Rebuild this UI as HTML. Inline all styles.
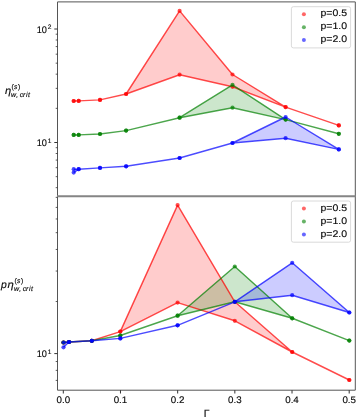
<!DOCTYPE html>
<html><head><meta charset="utf-8"><style>
html,body{margin:0;padding:0;background:#fff;}
body{width:357px;height:419px;overflow:hidden;}
svg{display:block;will-change:transform;text-rendering:geometricPrecision;font-family:"Liberation Sans",sans-serif;}
text{fill:#0a0a0a;stroke:#0a0a0a;stroke-width:0.15px;}
</style></head><body>
<svg width="357" height="419" viewBox="0 0 357 419">
<defs><clipPath id="ct"><rect x="57.5" y="1.9" width="297.8" height="193.7"/></clipPath>
<clipPath id="cb"><rect x="57.5" y="195.6" width="297.8" height="194.6"/></clipPath></defs>
<g clip-path="url(#ct)">
<polygon points="73.7,101.0 78.7,100.9 100.0,99.9 126.1,94.0 179.6,10.9 232.5,74.5 285.6,107.1 338.8,125.4 338.8,125.4 285.6,107.1 232.5,86.8 179.6,74.7 126.1,94.0 100.0,99.9 78.7,100.9 73.7,101.0" fill="rgb(255,0,0)" fill-opacity="0.2"/>
<polygon points="73.7,134.9 78.7,134.9 100.0,134.0 126.1,130.6 179.6,117.7 232.5,84.8 285.6,119.6 338.8,133.8 338.8,133.8 285.6,119.6 232.5,107.7 179.6,117.7 126.1,130.6 100.0,134.0 78.7,134.9 73.7,134.9" fill="rgb(0,128,0)" fill-opacity="0.2"/>
<polygon points="73.7,169.2 78.7,169.2 100.0,167.9 126.1,166.3 179.6,158.0 232.5,143.0 285.6,117.0 338.8,149.4 338.8,149.4 285.6,138.2 232.5,143.0 179.6,158.0 126.1,166.3 100.0,167.9 78.7,169.2 73.7,172.6" fill="rgb(0,0,255)" fill-opacity="0.2"/>
<path d="M73.7,101.0 L78.7,100.9 L100.0,99.9 L126.1,94.0 L179.6,74.7 L232.5,86.8 L285.6,107.1 L338.8,125.4 M126.1,94.0 L179.6,10.9 M179.6,10.9 L232.5,74.5 M232.5,74.5 L285.6,107.1" fill="none" stroke="rgb(255,0,0)" stroke-opacity="0.70" stroke-width="1.45" stroke-linejoin="round" stroke-linecap="butt"/>
<circle cx="73.7" cy="101.0" r="2.10" fill="rgb(255,0,0)" fill-opacity="0.70"/>
<circle cx="78.7" cy="100.9" r="2.10" fill="rgb(255,0,0)" fill-opacity="0.70"/>
<circle cx="100.0" cy="99.9" r="2.10" fill="rgb(255,0,0)" fill-opacity="0.70"/>
<circle cx="126.1" cy="94.0" r="2.10" fill="rgb(255,0,0)" fill-opacity="0.70"/>
<circle cx="179.6" cy="74.7" r="2.10" fill="rgb(255,0,0)" fill-opacity="0.70"/>
<circle cx="232.5" cy="86.8" r="2.10" fill="rgb(255,0,0)" fill-opacity="0.70"/>
<circle cx="285.6" cy="107.1" r="2.10" fill="rgb(255,0,0)" fill-opacity="0.70"/>
<circle cx="338.8" cy="125.4" r="2.10" fill="rgb(255,0,0)" fill-opacity="0.70"/>
<circle cx="73.7" cy="101.0" r="2.10" fill="rgb(255,0,0)" fill-opacity="0.70"/>
<circle cx="78.7" cy="100.9" r="2.10" fill="rgb(255,0,0)" fill-opacity="0.70"/>
<circle cx="100.0" cy="99.9" r="2.10" fill="rgb(255,0,0)" fill-opacity="0.70"/>
<circle cx="126.1" cy="94.0" r="2.10" fill="rgb(255,0,0)" fill-opacity="0.70"/>
<circle cx="179.6" cy="10.9" r="2.10" fill="rgb(255,0,0)" fill-opacity="0.70"/>
<circle cx="232.5" cy="74.5" r="2.10" fill="rgb(255,0,0)" fill-opacity="0.70"/>
<circle cx="285.6" cy="107.1" r="2.10" fill="rgb(255,0,0)" fill-opacity="0.70"/>
<circle cx="338.8" cy="125.4" r="2.10" fill="rgb(255,0,0)" fill-opacity="0.70"/>
<path d="M73.7,134.9 L78.7,134.9 L100.0,134.0 L126.1,130.6 L179.6,117.7 L232.5,107.7 L285.6,119.6 L338.8,133.8 M179.6,117.7 L232.5,84.8 M232.5,84.8 L285.6,119.6" fill="none" stroke="rgb(0,128,0)" stroke-opacity="0.70" stroke-width="1.45" stroke-linejoin="round" stroke-linecap="butt"/>
<circle cx="73.7" cy="134.9" r="2.10" fill="rgb(0,128,0)" fill-opacity="0.70"/>
<circle cx="78.7" cy="134.9" r="2.10" fill="rgb(0,128,0)" fill-opacity="0.70"/>
<circle cx="100.0" cy="134.0" r="2.10" fill="rgb(0,128,0)" fill-opacity="0.70"/>
<circle cx="126.1" cy="130.6" r="2.10" fill="rgb(0,128,0)" fill-opacity="0.70"/>
<circle cx="179.6" cy="117.7" r="2.10" fill="rgb(0,128,0)" fill-opacity="0.70"/>
<circle cx="232.5" cy="107.7" r="2.10" fill="rgb(0,128,0)" fill-opacity="0.70"/>
<circle cx="285.6" cy="119.6" r="2.10" fill="rgb(0,128,0)" fill-opacity="0.70"/>
<circle cx="338.8" cy="133.8" r="2.10" fill="rgb(0,128,0)" fill-opacity="0.70"/>
<circle cx="73.7" cy="134.9" r="2.10" fill="rgb(0,128,0)" fill-opacity="0.70"/>
<circle cx="78.7" cy="134.9" r="2.10" fill="rgb(0,128,0)" fill-opacity="0.70"/>
<circle cx="100.0" cy="134.0" r="2.10" fill="rgb(0,128,0)" fill-opacity="0.70"/>
<circle cx="126.1" cy="130.6" r="2.10" fill="rgb(0,128,0)" fill-opacity="0.70"/>
<circle cx="179.6" cy="117.7" r="2.10" fill="rgb(0,128,0)" fill-opacity="0.70"/>
<circle cx="232.5" cy="84.8" r="2.10" fill="rgb(0,128,0)" fill-opacity="0.70"/>
<circle cx="285.6" cy="119.6" r="2.10" fill="rgb(0,128,0)" fill-opacity="0.70"/>
<circle cx="338.8" cy="133.8" r="2.10" fill="rgb(0,128,0)" fill-opacity="0.70"/>
<path d="M73.7,172.6 L78.7,169.2 L100.0,167.9 L126.1,166.3 L179.6,158.0 L232.5,143.0 L285.6,138.2 L338.8,149.4 M73.7,169.2 L78.7,169.2 M232.5,143.0 L285.6,117.0 M285.6,117.0 L338.8,149.4" fill="none" stroke="rgb(0,0,255)" stroke-opacity="0.70" stroke-width="1.45" stroke-linejoin="round" stroke-linecap="butt"/>
<circle cx="73.7" cy="172.6" r="2.10" fill="rgb(0,0,255)" fill-opacity="0.70"/>
<circle cx="78.7" cy="169.2" r="2.10" fill="rgb(0,0,255)" fill-opacity="0.70"/>
<circle cx="100.0" cy="167.9" r="2.10" fill="rgb(0,0,255)" fill-opacity="0.70"/>
<circle cx="126.1" cy="166.3" r="2.10" fill="rgb(0,0,255)" fill-opacity="0.70"/>
<circle cx="179.6" cy="158.0" r="2.10" fill="rgb(0,0,255)" fill-opacity="0.70"/>
<circle cx="232.5" cy="143.0" r="2.10" fill="rgb(0,0,255)" fill-opacity="0.70"/>
<circle cx="285.6" cy="138.2" r="2.10" fill="rgb(0,0,255)" fill-opacity="0.70"/>
<circle cx="338.8" cy="149.4" r="2.10" fill="rgb(0,0,255)" fill-opacity="0.70"/>
<circle cx="73.7" cy="169.2" r="2.10" fill="rgb(0,0,255)" fill-opacity="0.70"/>
<circle cx="78.7" cy="169.2" r="2.10" fill="rgb(0,0,255)" fill-opacity="0.70"/>
<circle cx="100.0" cy="167.9" r="2.10" fill="rgb(0,0,255)" fill-opacity="0.70"/>
<circle cx="126.1" cy="166.3" r="2.10" fill="rgb(0,0,255)" fill-opacity="0.70"/>
<circle cx="179.6" cy="158.0" r="2.10" fill="rgb(0,0,255)" fill-opacity="0.70"/>
<circle cx="232.5" cy="143.0" r="2.10" fill="rgb(0,0,255)" fill-opacity="0.70"/>
<circle cx="285.6" cy="117.0" r="2.10" fill="rgb(0,0,255)" fill-opacity="0.70"/>
<circle cx="338.8" cy="149.4" r="2.10" fill="rgb(0,0,255)" fill-opacity="0.70"/>

</g>
<g clip-path="url(#cb)">
<polygon points="63.5,342.5 69.0,342.0 91.8,340.8 120.3,331.6 177.6,205.1 234.8,301.8 292.2,352.0 349.3,380.0 349.3,380.0 292.2,352.0 234.8,320.8 177.6,302.6 120.3,331.6 91.8,340.8 69.0,342.0 63.5,342.5" fill="rgb(255,0,0)" fill-opacity="0.2"/>
<polygon points="63.5,342.5 69.0,342.0 91.8,340.8 120.3,335.5 177.6,315.7 234.8,266.5 292.2,318.3 349.3,340.6 349.3,340.6 292.2,318.3 234.8,301.8 177.6,315.7 120.3,335.5 91.8,340.8 69.0,342.0 63.5,342.5" fill="rgb(0,128,0)" fill-opacity="0.2"/>
<polygon points="63.5,342.5 69.0,342.0 91.8,340.8 120.3,338.4 177.6,325.3 234.8,301.8 292.2,262.8 349.3,312.5 349.3,312.5 292.2,295.2 234.8,301.8 177.6,325.3 120.3,338.4 91.8,340.8 69.0,342.0 63.5,347.3" fill="rgb(0,0,255)" fill-opacity="0.2"/>
<path d="M63.5,342.5 L69.0,342.0 L91.8,340.8 L120.3,331.6 L177.6,302.6 L234.8,320.8 L292.2,352.0 L349.3,380.0 M120.3,331.6 L177.6,205.1 M177.6,205.1 L234.8,301.8 M234.8,301.8 L292.2,352.0" fill="none" stroke="rgb(255,0,0)" stroke-opacity="0.70" stroke-width="1.45" stroke-linejoin="round" stroke-linecap="butt"/>
<circle cx="63.5" cy="342.5" r="2.10" fill="rgb(255,0,0)" fill-opacity="0.70"/>
<circle cx="69.0" cy="342.0" r="2.10" fill="rgb(255,0,0)" fill-opacity="0.70"/>
<circle cx="91.8" cy="340.8" r="2.10" fill="rgb(255,0,0)" fill-opacity="0.70"/>
<circle cx="120.3" cy="331.6" r="2.10" fill="rgb(255,0,0)" fill-opacity="0.70"/>
<circle cx="177.6" cy="302.6" r="2.10" fill="rgb(255,0,0)" fill-opacity="0.70"/>
<circle cx="234.8" cy="320.8" r="2.10" fill="rgb(255,0,0)" fill-opacity="0.70"/>
<circle cx="292.2" cy="352.0" r="2.10" fill="rgb(255,0,0)" fill-opacity="0.70"/>
<circle cx="349.3" cy="380.0" r="2.10" fill="rgb(255,0,0)" fill-opacity="0.70"/>
<circle cx="63.5" cy="342.5" r="2.10" fill="rgb(255,0,0)" fill-opacity="0.70"/>
<circle cx="69.0" cy="342.0" r="2.10" fill="rgb(255,0,0)" fill-opacity="0.70"/>
<circle cx="91.8" cy="340.8" r="2.10" fill="rgb(255,0,0)" fill-opacity="0.70"/>
<circle cx="120.3" cy="331.6" r="2.10" fill="rgb(255,0,0)" fill-opacity="0.70"/>
<circle cx="177.6" cy="205.1" r="2.10" fill="rgb(255,0,0)" fill-opacity="0.70"/>
<circle cx="234.8" cy="301.8" r="2.10" fill="rgb(255,0,0)" fill-opacity="0.70"/>
<circle cx="292.2" cy="352.0" r="2.10" fill="rgb(255,0,0)" fill-opacity="0.70"/>
<circle cx="349.3" cy="380.0" r="2.10" fill="rgb(255,0,0)" fill-opacity="0.70"/>
<path d="M63.5,342.5 L69.0,342.0 L91.8,340.8 L120.3,335.5 L177.6,315.7 L234.8,301.8 L292.2,318.3 L349.3,340.6 M177.6,315.7 L234.8,266.5 M234.8,266.5 L292.2,318.3" fill="none" stroke="rgb(0,128,0)" stroke-opacity="0.70" stroke-width="1.45" stroke-linejoin="round" stroke-linecap="butt"/>
<circle cx="63.5" cy="342.5" r="2.10" fill="rgb(0,128,0)" fill-opacity="0.70"/>
<circle cx="69.0" cy="342.0" r="2.10" fill="rgb(0,128,0)" fill-opacity="0.70"/>
<circle cx="91.8" cy="340.8" r="2.10" fill="rgb(0,128,0)" fill-opacity="0.70"/>
<circle cx="120.3" cy="335.5" r="2.10" fill="rgb(0,128,0)" fill-opacity="0.70"/>
<circle cx="177.6" cy="315.7" r="2.10" fill="rgb(0,128,0)" fill-opacity="0.70"/>
<circle cx="234.8" cy="301.8" r="2.10" fill="rgb(0,128,0)" fill-opacity="0.70"/>
<circle cx="292.2" cy="318.3" r="2.10" fill="rgb(0,128,0)" fill-opacity="0.70"/>
<circle cx="349.3" cy="340.6" r="2.10" fill="rgb(0,128,0)" fill-opacity="0.70"/>
<circle cx="63.5" cy="342.5" r="2.10" fill="rgb(0,128,0)" fill-opacity="0.70"/>
<circle cx="69.0" cy="342.0" r="2.10" fill="rgb(0,128,0)" fill-opacity="0.70"/>
<circle cx="91.8" cy="340.8" r="2.10" fill="rgb(0,128,0)" fill-opacity="0.70"/>
<circle cx="120.3" cy="335.5" r="2.10" fill="rgb(0,128,0)" fill-opacity="0.70"/>
<circle cx="177.6" cy="315.7" r="2.10" fill="rgb(0,128,0)" fill-opacity="0.70"/>
<circle cx="234.8" cy="266.5" r="2.10" fill="rgb(0,128,0)" fill-opacity="0.70"/>
<circle cx="292.2" cy="318.3" r="2.10" fill="rgb(0,128,0)" fill-opacity="0.70"/>
<circle cx="349.3" cy="340.6" r="2.10" fill="rgb(0,128,0)" fill-opacity="0.70"/>
<path d="M63.5,347.3 L69.0,342.0 L91.8,340.8 L120.3,338.4 L177.6,325.3 L234.8,301.8 L292.2,295.2 L349.3,312.5 M63.5,342.5 L69.0,342.0 M234.8,301.8 L292.2,262.8 M292.2,262.8 L349.3,312.5" fill="none" stroke="rgb(0,0,255)" stroke-opacity="0.70" stroke-width="1.45" stroke-linejoin="round" stroke-linecap="butt"/>
<circle cx="63.5" cy="347.3" r="2.10" fill="rgb(0,0,255)" fill-opacity="0.70"/>
<circle cx="69.0" cy="342.0" r="2.10" fill="rgb(0,0,255)" fill-opacity="0.70"/>
<circle cx="91.8" cy="340.8" r="2.10" fill="rgb(0,0,255)" fill-opacity="0.70"/>
<circle cx="120.3" cy="338.4" r="2.10" fill="rgb(0,0,255)" fill-opacity="0.70"/>
<circle cx="177.6" cy="325.3" r="2.10" fill="rgb(0,0,255)" fill-opacity="0.70"/>
<circle cx="234.8" cy="301.8" r="2.10" fill="rgb(0,0,255)" fill-opacity="0.70"/>
<circle cx="292.2" cy="295.2" r="2.10" fill="rgb(0,0,255)" fill-opacity="0.70"/>
<circle cx="349.3" cy="312.5" r="2.10" fill="rgb(0,0,255)" fill-opacity="0.70"/>
<circle cx="63.5" cy="342.5" r="2.10" fill="rgb(0,0,255)" fill-opacity="0.70"/>
<circle cx="69.0" cy="342.0" r="2.10" fill="rgb(0,0,255)" fill-opacity="0.70"/>
<circle cx="91.8" cy="340.8" r="2.10" fill="rgb(0,0,255)" fill-opacity="0.70"/>
<circle cx="120.3" cy="338.4" r="2.10" fill="rgb(0,0,255)" fill-opacity="0.70"/>
<circle cx="177.6" cy="325.3" r="2.10" fill="rgb(0,0,255)" fill-opacity="0.70"/>
<circle cx="234.8" cy="301.8" r="2.10" fill="rgb(0,0,255)" fill-opacity="0.70"/>
<circle cx="292.2" cy="262.8" r="2.10" fill="rgb(0,0,255)" fill-opacity="0.70"/>
<circle cx="349.3" cy="312.5" r="2.10" fill="rgb(0,0,255)" fill-opacity="0.70"/>

</g>
<path d="M57.5,1.9 L355.3,1.9 L355.3,390.2 L57.5,390.2 Z" fill="none" stroke="#555555" stroke-width="1" stroke-linejoin="miter"/>
<line x1="57.0" x2="355.8" y1="196.2" y2="196.2" stroke="#858585" stroke-width="2.10"/>
<line x1="55.7" x2="57.50" y1="187.67" y2="187.67" stroke="#333333" stroke-width="0.80"/>
<line x1="55.7" x2="57.50" y1="176.67" y2="176.67" stroke="#333333" stroke-width="0.80"/>
<line x1="55.7" x2="57.50" y1="167.68" y2="167.68" stroke="#333333" stroke-width="0.80"/>
<line x1="55.7" x2="57.50" y1="160.08" y2="160.08" stroke="#333333" stroke-width="0.80"/>
<line x1="55.7" x2="57.50" y1="153.50" y2="153.50" stroke="#333333" stroke-width="0.80"/>
<line x1="55.7" x2="57.50" y1="147.69" y2="147.69" stroke="#333333" stroke-width="0.80"/>
<line x1="54.3" x2="57.50" y1="142.50" y2="142.50" stroke="#333333" stroke-width="1.00"/>
<line x1="55.7" x2="57.50" y1="108.33" y2="108.33" stroke="#333333" stroke-width="0.80"/>
<line x1="55.7" x2="57.50" y1="88.35" y2="88.35" stroke="#333333" stroke-width="0.80"/>
<line x1="55.7" x2="57.50" y1="74.17" y2="74.17" stroke="#333333" stroke-width="0.80"/>
<line x1="55.7" x2="57.50" y1="63.17" y2="63.17" stroke="#333333" stroke-width="0.80"/>
<line x1="55.7" x2="57.50" y1="54.18" y2="54.18" stroke="#333333" stroke-width="0.80"/>
<line x1="55.7" x2="57.50" y1="46.58" y2="46.58" stroke="#333333" stroke-width="0.80"/>
<line x1="55.7" x2="57.50" y1="40.00" y2="40.00" stroke="#333333" stroke-width="0.80"/>
<line x1="55.7" x2="57.50" y1="34.19" y2="34.19" stroke="#333333" stroke-width="0.80"/>
<line x1="54.3" x2="57.50" y1="29.00" y2="29.00" stroke="#333333" stroke-width="1.00"/>
<line x1="55.7" x2="57.50" y1="380.40" y2="380.40" stroke="#333333" stroke-width="0.80"/>
<line x1="55.7" x2="57.50" y1="370.37" y2="370.37" stroke="#333333" stroke-width="0.80"/>
<line x1="55.7" x2="57.50" y1="361.52" y2="361.52" stroke="#333333" stroke-width="0.80"/>
<line x1="54.3" x2="57.50" y1="353.60" y2="353.60" stroke="#333333" stroke-width="1.00"/>
<line x1="55.7" x2="57.50" y1="301.52" y2="301.52" stroke="#333333" stroke-width="0.80"/>
<line x1="55.7" x2="57.50" y1="271.06" y2="271.06" stroke="#333333" stroke-width="0.80"/>
<line x1="55.7" x2="57.50" y1="249.44" y2="249.44" stroke="#333333" stroke-width="0.80"/>
<line x1="55.7" x2="57.50" y1="232.68" y2="232.68" stroke="#333333" stroke-width="0.80"/>
<line x1="55.7" x2="57.50" y1="218.98" y2="218.98" stroke="#333333" stroke-width="0.80"/>
<line x1="55.7" x2="57.50" y1="207.40" y2="207.40" stroke="#333333" stroke-width="0.80"/>
<line x1="55.7" x2="57.50" y1="197.37" y2="197.37" stroke="#333333" stroke-width="0.80"/>
<line x1="63.30" x2="63.30" y1="390.2" y2="393.5" stroke="#333333" stroke-width="1"/>
<text x="63.30" y="403" font-size="9.5px" text-anchor="middle" textLength="13.6" lengthAdjust="spacingAndGlyphs">0.0</text>
<line x1="120.48" x2="120.48" y1="390.2" y2="393.5" stroke="#333333" stroke-width="1"/>
<text x="120.48" y="403" font-size="9.5px" text-anchor="middle" textLength="13.6" lengthAdjust="spacingAndGlyphs">0.1</text>
<line x1="177.66" x2="177.66" y1="390.2" y2="393.5" stroke="#333333" stroke-width="1"/>
<text x="177.66" y="403" font-size="9.5px" text-anchor="middle" textLength="13.6" lengthAdjust="spacingAndGlyphs">0.2</text>
<line x1="234.84" x2="234.84" y1="390.2" y2="393.5" stroke="#333333" stroke-width="1"/>
<text x="234.84" y="403" font-size="9.5px" text-anchor="middle" textLength="13.6" lengthAdjust="spacingAndGlyphs">0.3</text>
<line x1="292.02" x2="292.02" y1="390.2" y2="393.5" stroke="#333333" stroke-width="1"/>
<text x="292.02" y="403" font-size="9.5px" text-anchor="middle" textLength="13.6" lengthAdjust="spacingAndGlyphs">0.4</text>
<line x1="349.20" x2="349.20" y1="390.2" y2="393.5" stroke="#333333" stroke-width="1"/>
<text x="349.20" y="403" font-size="9.5px" text-anchor="middle" textLength="13.6" lengthAdjust="spacingAndGlyphs">0.5</text>
<text x="46.9" y="32.5" font-size="9.6px" text-anchor="end" textLength="10.2" lengthAdjust="spacingAndGlyphs">10</text><text x="47.8" y="29.2" font-size="6.6px">2</text>
<text x="46.9" y="146.0" font-size="9.6px" text-anchor="end" textLength="10.2" lengthAdjust="spacingAndGlyphs">10</text><text x="47.8" y="142.7" font-size="6.6px">1</text>
<text x="46.9" y="357.1" font-size="9.6px" text-anchor="end" textLength="10.2" lengthAdjust="spacingAndGlyphs">10</text><text x="47.8" y="353.8" font-size="6.6px">1</text>
<text x="203.8" y="417.2" font-size="10.5px">&#915;</text>
<text x="5.1" y="94.3" font-size="10.4px" font-style="italic" textLength="6.2" lengthAdjust="spacingAndGlyphs">&#951;</text><text y="89.4" font-size="6.8px"><tspan x="11.6">(</tspan><tspan x="13.9" font-style="italic">s</tspan><tspan x="18.0">)</tspan></text><text x="11.1 16.3 19.8 23.0 25.9 28.0" y="97.4" font-size="7px" font-style="italic">w,crit</text>
<text x="1.1" y="288.3" font-size="10.4px" font-style="italic">p</text><text x="7.6" y="288.3" font-size="10.4px" font-style="italic" textLength="6.3" lengthAdjust="spacingAndGlyphs">&#951;</text><text y="283.4" font-size="6.8px"><tspan x="14.6">(</tspan><tspan x="16.9" font-style="italic">s</tspan><tspan x="21.0">)</tspan></text><text x="14.1 19.3 22.8 26.0 28.9 31.0" y="291.4" font-size="7px" font-style="italic">w,crit</text>
<rect x="291.4" y="6.7" width="59.2" height="41.2" rx="2" ry="2" fill="#fff" fill-opacity="0.8" stroke="#d0d0d0" stroke-width="0.8"/>
<circle cx="303.9" cy="14.3" r="2.0" fill="rgb(255,0,0)" fill-opacity="0.6"/>
<text x="320.5" y="16.0" font-size="9.5px" textLength="26.6" lengthAdjust="spacingAndGlyphs">p=0.5</text>
<circle cx="303.9" cy="27.2" r="2.0" fill="rgb(0,128,0)" fill-opacity="0.6"/>
<text x="320.5" y="29.0" font-size="9.5px" textLength="26.6" lengthAdjust="spacingAndGlyphs">p=1.0</text>
<circle cx="303.9" cy="40.1" r="2.0" fill="rgb(0,0,255)" fill-opacity="0.6"/>
<text x="320.5" y="42.0" font-size="9.5px" textLength="26.6" lengthAdjust="spacingAndGlyphs">p=2.0</text>
<rect x="291.4" y="201.0" width="59.2" height="41.2" rx="2" ry="2" fill="#fff" fill-opacity="0.8" stroke="#d0d0d0" stroke-width="0.8"/>
<circle cx="303.9" cy="208.6" r="2.0" fill="rgb(255,0,0)" fill-opacity="0.6"/>
<text x="320.5" y="211.0" font-size="9.5px" textLength="26.6" lengthAdjust="spacingAndGlyphs">p=0.5</text>
<circle cx="303.9" cy="221.5" r="2.0" fill="rgb(0,128,0)" fill-opacity="0.6"/>
<text x="320.5" y="224.0" font-size="9.5px" textLength="26.6" lengthAdjust="spacingAndGlyphs">p=1.0</text>
<circle cx="303.9" cy="234.4" r="2.0" fill="rgb(0,0,255)" fill-opacity="0.6"/>
<text x="320.5" y="237.0" font-size="9.5px" textLength="26.6" lengthAdjust="spacingAndGlyphs">p=2.0</text>
</svg></body></html>
